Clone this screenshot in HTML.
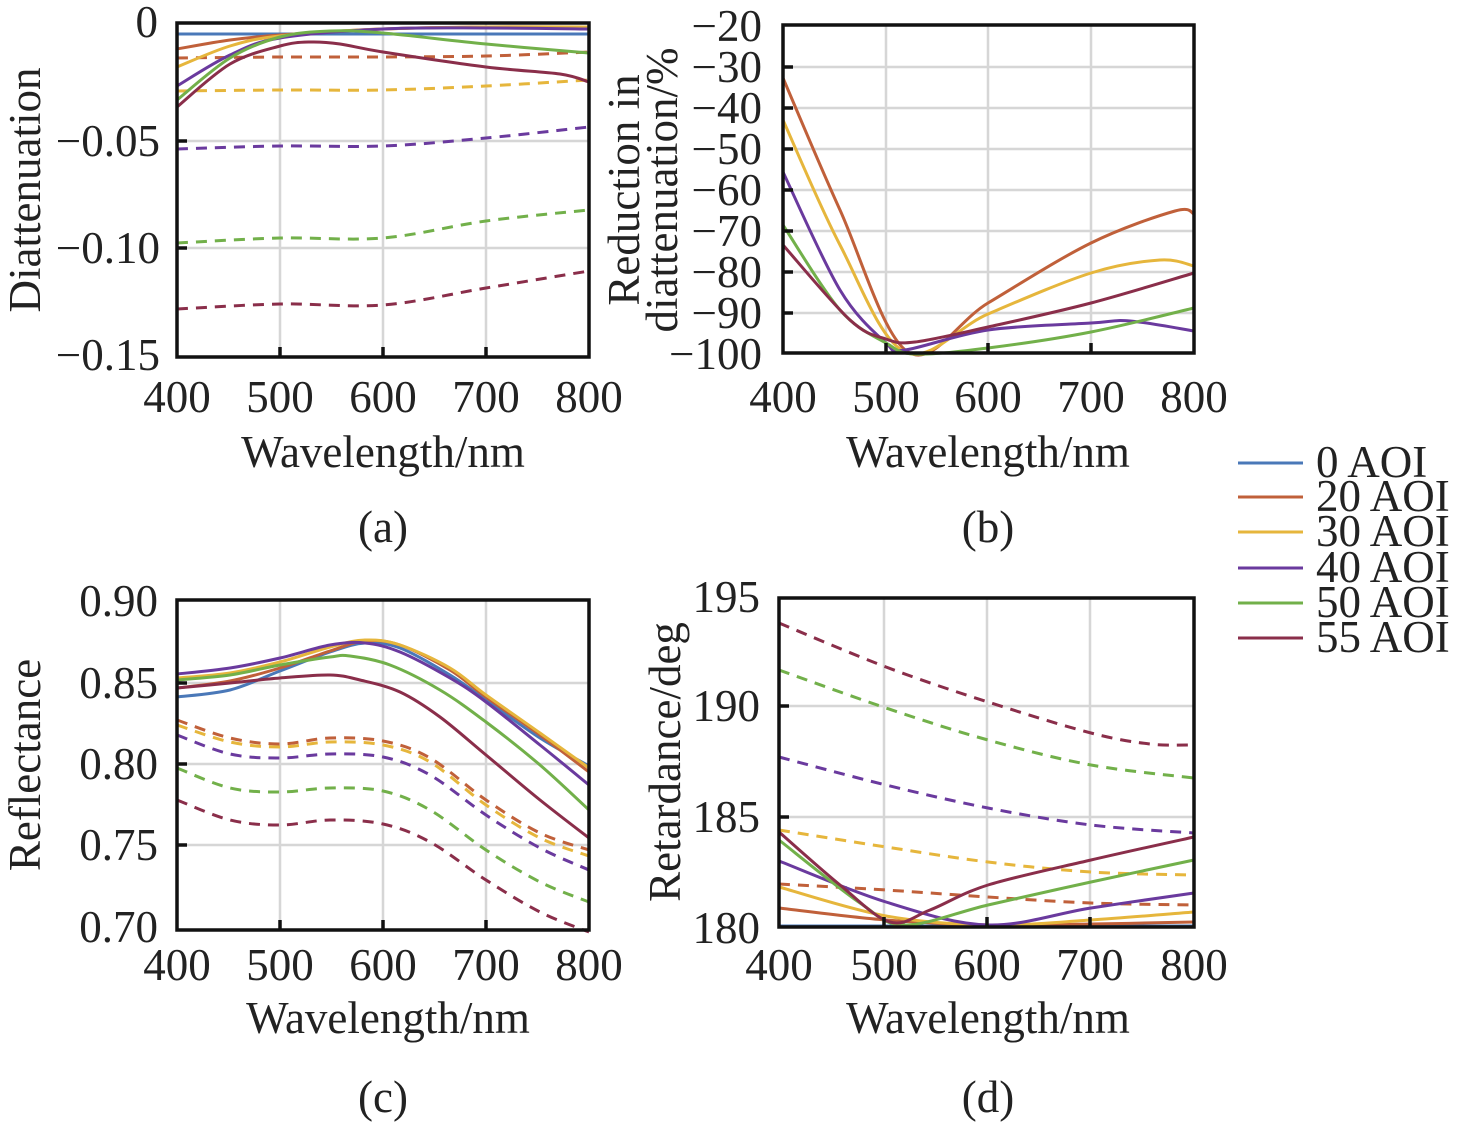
<!DOCTYPE html>
<html><head><meta charset="utf-8"><style>
html,body{margin:0;padding:0;background:#fff}
svg{display:block}
text{font-family:"Liberation Serif",serif;font-size:45px;fill:#222}
</style></head><body>
<svg id="s" width="1476" height="1129" viewBox="0 0 1476 1129" xmlns="http://www.w3.org/2000/svg">
<g id="grid" stroke="#d6d6d6" stroke-width="2.5" fill="none">
<path d="M280 23V357M383 23V357M486 23V357M177 141H589M177 248H589"/>
<path d="M886 25V353M988 25V353M1091 25V353M783 67H1194M783 108H1194M783 149H1194M783 190H1194M783 231H1194M783 272H1194M783 313H1194"/>
<path d="M280 600V930M383 600V930M486 600V930M177 683H589M177 764H589M177 845H589"/>
<path d="M884 598V927M987 598V927M1090 598V927M779 706H1194M779 817H1194"/>
</g>
<g id="series" fill="none" stroke-width="3" stroke-linejoin="round" stroke-linecap="butt"></g>
<g stroke="#111" stroke-width="3.5" fill="none">
<rect x="177" y="23" width="412" height="334"/>
<rect x="783" y="25" width="411" height="328"/>
<rect x="177" y="600" width="412" height="330"/>
<rect x="779" y="598" width="415" height="329"/>
<path d="M280 357v-10M383 357v-10M486 357v-10M177 141h10M177 248h10"/>
<path d="M886 353v-10M988 353v-10M1091 353v-10M783 67h10M783 108h10M783 149h10M783 190h10M783 231h10M783 272h10M783 313h10"/>
<path d="M280 930v-10M383 930v-10M486 930v-10M177 683h10M177 764h10M177 845h10"/>
<path d="M884 927v-10M987 927v-10M1090 927v-10M779 706h10M779 817h10"/>
</g>
<g text-anchor="end">
<text x="158" y="37">0</text><text x="160" y="156">−0.05</text><text x="160" y="263">−0.10</text><text x="160" y="370">−0.15</text>
<text x="762" y="41">−20</text><text x="762" y="82">−30</text><text x="762" y="123">−40</text><text x="762" y="164">−50</text><text x="762" y="205">−60</text><text x="762" y="246">−70</text><text x="762" y="287">−80</text><text x="762" y="328">−90</text><text x="762" y="369">−100</text>
<text x="158" y="616">0.90</text><text x="158" y="698">0.85</text><text x="158" y="779">0.80</text><text x="158" y="860">0.75</text><text x="158" y="942">0.70</text>
<text x="760" y="612">195</text><text x="760" y="721">190</text><text x="760" y="832">185</text><text x="760" y="943">180</text>
</g>
<g text-anchor="middle">
<text x="177" y="412">400</text><text x="280" y="412">500</text><text x="383" y="412">600</text><text x="486" y="412">700</text><text x="589" y="412">800</text>
<text x="783" y="412">400</text><text x="886" y="412">500</text><text x="988" y="412">600</text><text x="1091" y="412">700</text><text x="1194" y="412">800</text>
<text x="177" y="980">400</text><text x="280" y="980">500</text><text x="383" y="980">600</text><text x="486" y="980">700</text><text x="589" y="980">800</text>
<text x="779" y="980">400</text><text x="884" y="980">500</text><text x="987" y="980">600</text><text x="1090" y="980">700</text><text x="1194" y="980">800</text>
<text x="383" y="467">Wavelength/nm</text><text x="988" y="467">Wavelength/nm</text>
<text x="388" y="1033">Wavelength/nm</text><text x="988" y="1033">Wavelength/nm</text>
<text x="383" y="542">(a)</text><text x="988" y="542">(b)</text><text x="383" y="1112">(c)</text><text x="988" y="1112">(d)</text>
<text transform="translate(40,190) rotate(-90)">Diattenuation</text>
<text transform="translate(639,190) rotate(-90)">Reduction in</text>
<text transform="translate(677,190) rotate(-90)">diattenuation/%</text>
<text transform="translate(40,765) rotate(-90)">Reflectance</text>
<text transform="translate(680,762) rotate(-90)">Retardance/deg</text>
</g>
<g stroke-width="3">
<path d="M1238 463h65" stroke="#4a78b8"/><path d="M1238 497h65" stroke="#c0603a"/><path d="M1238 532h65" stroke="#e6b63c"/>
<path d="M1238 568h65" stroke="#6a3a9e"/><path d="M1238 603h65" stroke="#72b04a"/><path d="M1238 638h65" stroke="#8a2e4a"/>
</g>
<text x="1316" y="477">0 AOI</text><text x="1316" y="511">20 AOI</text><text x="1316" y="546">30 AOI</text>
<text x="1316" y="582">40 AOI</text><text x="1316" y="617">50 AOI</text><text x="1316" y="652">55 AOI</text>
</svg>
<script>
var C={b:"#4a78b8",o:"#c0603a",y:"#e6b63c",p:"#6a3a9e",g:"#72b04a",r:"#8a2e4a"};
function sm(p){var d="M"+p[0][0]+" "+p[0][1];for(var i=0;i<p.length-1;i++){var a=p[i-1]||p[i],b=p[i],c=p[i+1],e=p[i+2]||c;
d+=" C"+(b[0]+(c[0]-a[0])/6).toFixed(1)+" "+(b[1]+(c[1]-a[1])/6).toFixed(1)+" "+(c[0]-(e[0]-b[0])/6).toFixed(1)+" "+(c[1]-(e[1]-b[1])/6).toFixed(1)+" "+c[0]+" "+c[1];}return d;}
var S=[
["o",1,[[177,58],[280,57],[383,57],[486,56],[589,52]]],
["y",1,[[177,91],[280,90],[383,90],[486,86],[589,80]]],
["p",1,[[177,149],[280,146],[383,146],[486,138],[589,127]]],
["g",1,[[177,243],[280,238],[383,238],[486,221],[589,210]]],
["r",1,[[177,309],[280,304],[383,305],[486,288],[589,271]]],
["b",0,[[177,34],[589,34]]],
["o",0,[[177,49],[230,40],[280,35],[383,29],[486,27],[589,27]]],
["y",0,[[177,67],[230,46],[280,36],[383,29],[486,27],[589,27]]],
["p",0,[[177,86],[230,55],[280,38],[383,29],[486,28],[589,29]]],
["g",0,[[177,100],[230,58],[280,37],[330,31],[383,33],[486,44],[589,53]]],
["r",0,[[177,107],[230,64],[280,46],[310,42],[340,44],[383,52],[486,67],[560,74],[589,82]]],
["o",0,[[783,78],[840,210],[908,352],[988,303],[1091,243],[1175,211],[1194,214]]],
["y",0,[[783,120],[840,245],[905,352],[988,314],[1091,273],[1160,260],[1194,266]]],
["p",0,[[783,172],[840,290],[886,343],[905,350],[988,330],[1091,323],[1130,321],[1194,331]]],
["g",0,[[783,225],[840,310],[886,343],[915,354],[988,348],[1091,332],[1194,308]]],
["r",0,[[783,245],[850,320],[886,339],[915,342],[988,327],[1091,303],[1194,273]]],
["o",1,[[177,720],[230,738],[280,744],[330,738],[383,741],[430,758],[486,800],[540,833],[589,850]]],
["y",1,[[177,725],[230,742],[280,747],[330,742],[383,745],[430,762],[486,805],[540,838],[589,856]]],
["p",1,[[177,735],[230,754],[280,758],[330,754],[383,757],[430,775],[486,815],[540,848],[589,870]]],
["g",1,[[177,768],[230,788],[280,792],[330,788],[383,791],[430,810],[486,850],[540,882],[589,902]]],
["r",1,[[177,800],[230,820],[280,825],[330,820],[383,824],[430,842],[486,880],[540,912],[589,932]]],
["b",0,[[177,697],[230,690],[280,671],[330,652],[365,643],[400,648],[450,675],[486,700],[540,738],[589,766]]],
["o",0,[[177,688],[230,681],[280,668],[330,651],[365,641],[400,645],[450,670],[486,697],[540,735],[589,772]]],
["y",0,[[177,678],[230,673],[280,662],[330,647],[365,640],[400,645],[450,668],[486,695],[540,733],[589,768]]],
["p",0,[[177,674],[230,668],[280,658],[330,645],[365,643],[400,652],[450,678],[486,702],[540,745],[589,785]]],
["g",0,[[177,680],[230,675],[280,665],[330,657],[350,656],[390,665],[440,690],[486,722],[540,765],[589,810]]],
["r",0,[[177,688],[230,683],[280,678],[330,675],[360,680],[400,692],[440,717],[486,755],[540,800],[589,838]]],
["r",1,[[779,623],[886,667],[988,702],[1091,733],[1150,744],[1194,745]]],
["g",1,[[779,670],[886,708],[988,740],[1091,765],[1194,778]]],
["p",1,[[779,757],[886,785],[988,808],[1091,825],[1194,833]]],
["y",1,[[779,830],[886,847],[988,862],[1091,872],[1194,875]]],
["o",1,[[779,884],[886,890],[988,897],[1091,903],[1194,905]]],
["b",0,[[779,926],[1194,926]]],
["o",0,[[779,908],[886,920],[988,925],[1091,924],[1194,922]]],
["y",0,[[779,887],[886,916],[988,925],[1091,920],[1194,912]]],
["p",0,[[779,861],[886,902],[988,925],[1091,908],[1194,893]]],
["g",0,[[779,840],[860,903],[905,925],[988,905],[1091,882],[1194,860]]],
["r",0,[[779,832],[840,885],[890,922],[930,910],[988,885],[1091,860],[1194,837]]]
];
var g=document.getElementById("series"),h="";
S.forEach(function(s){h+='<path d="'+sm(s[2])+'" stroke="'+C[s[0]]+'"'+(s[1]?' stroke-dasharray="11 8"':'')+'/>';});
g.innerHTML=h;
</script>
</body></html>
